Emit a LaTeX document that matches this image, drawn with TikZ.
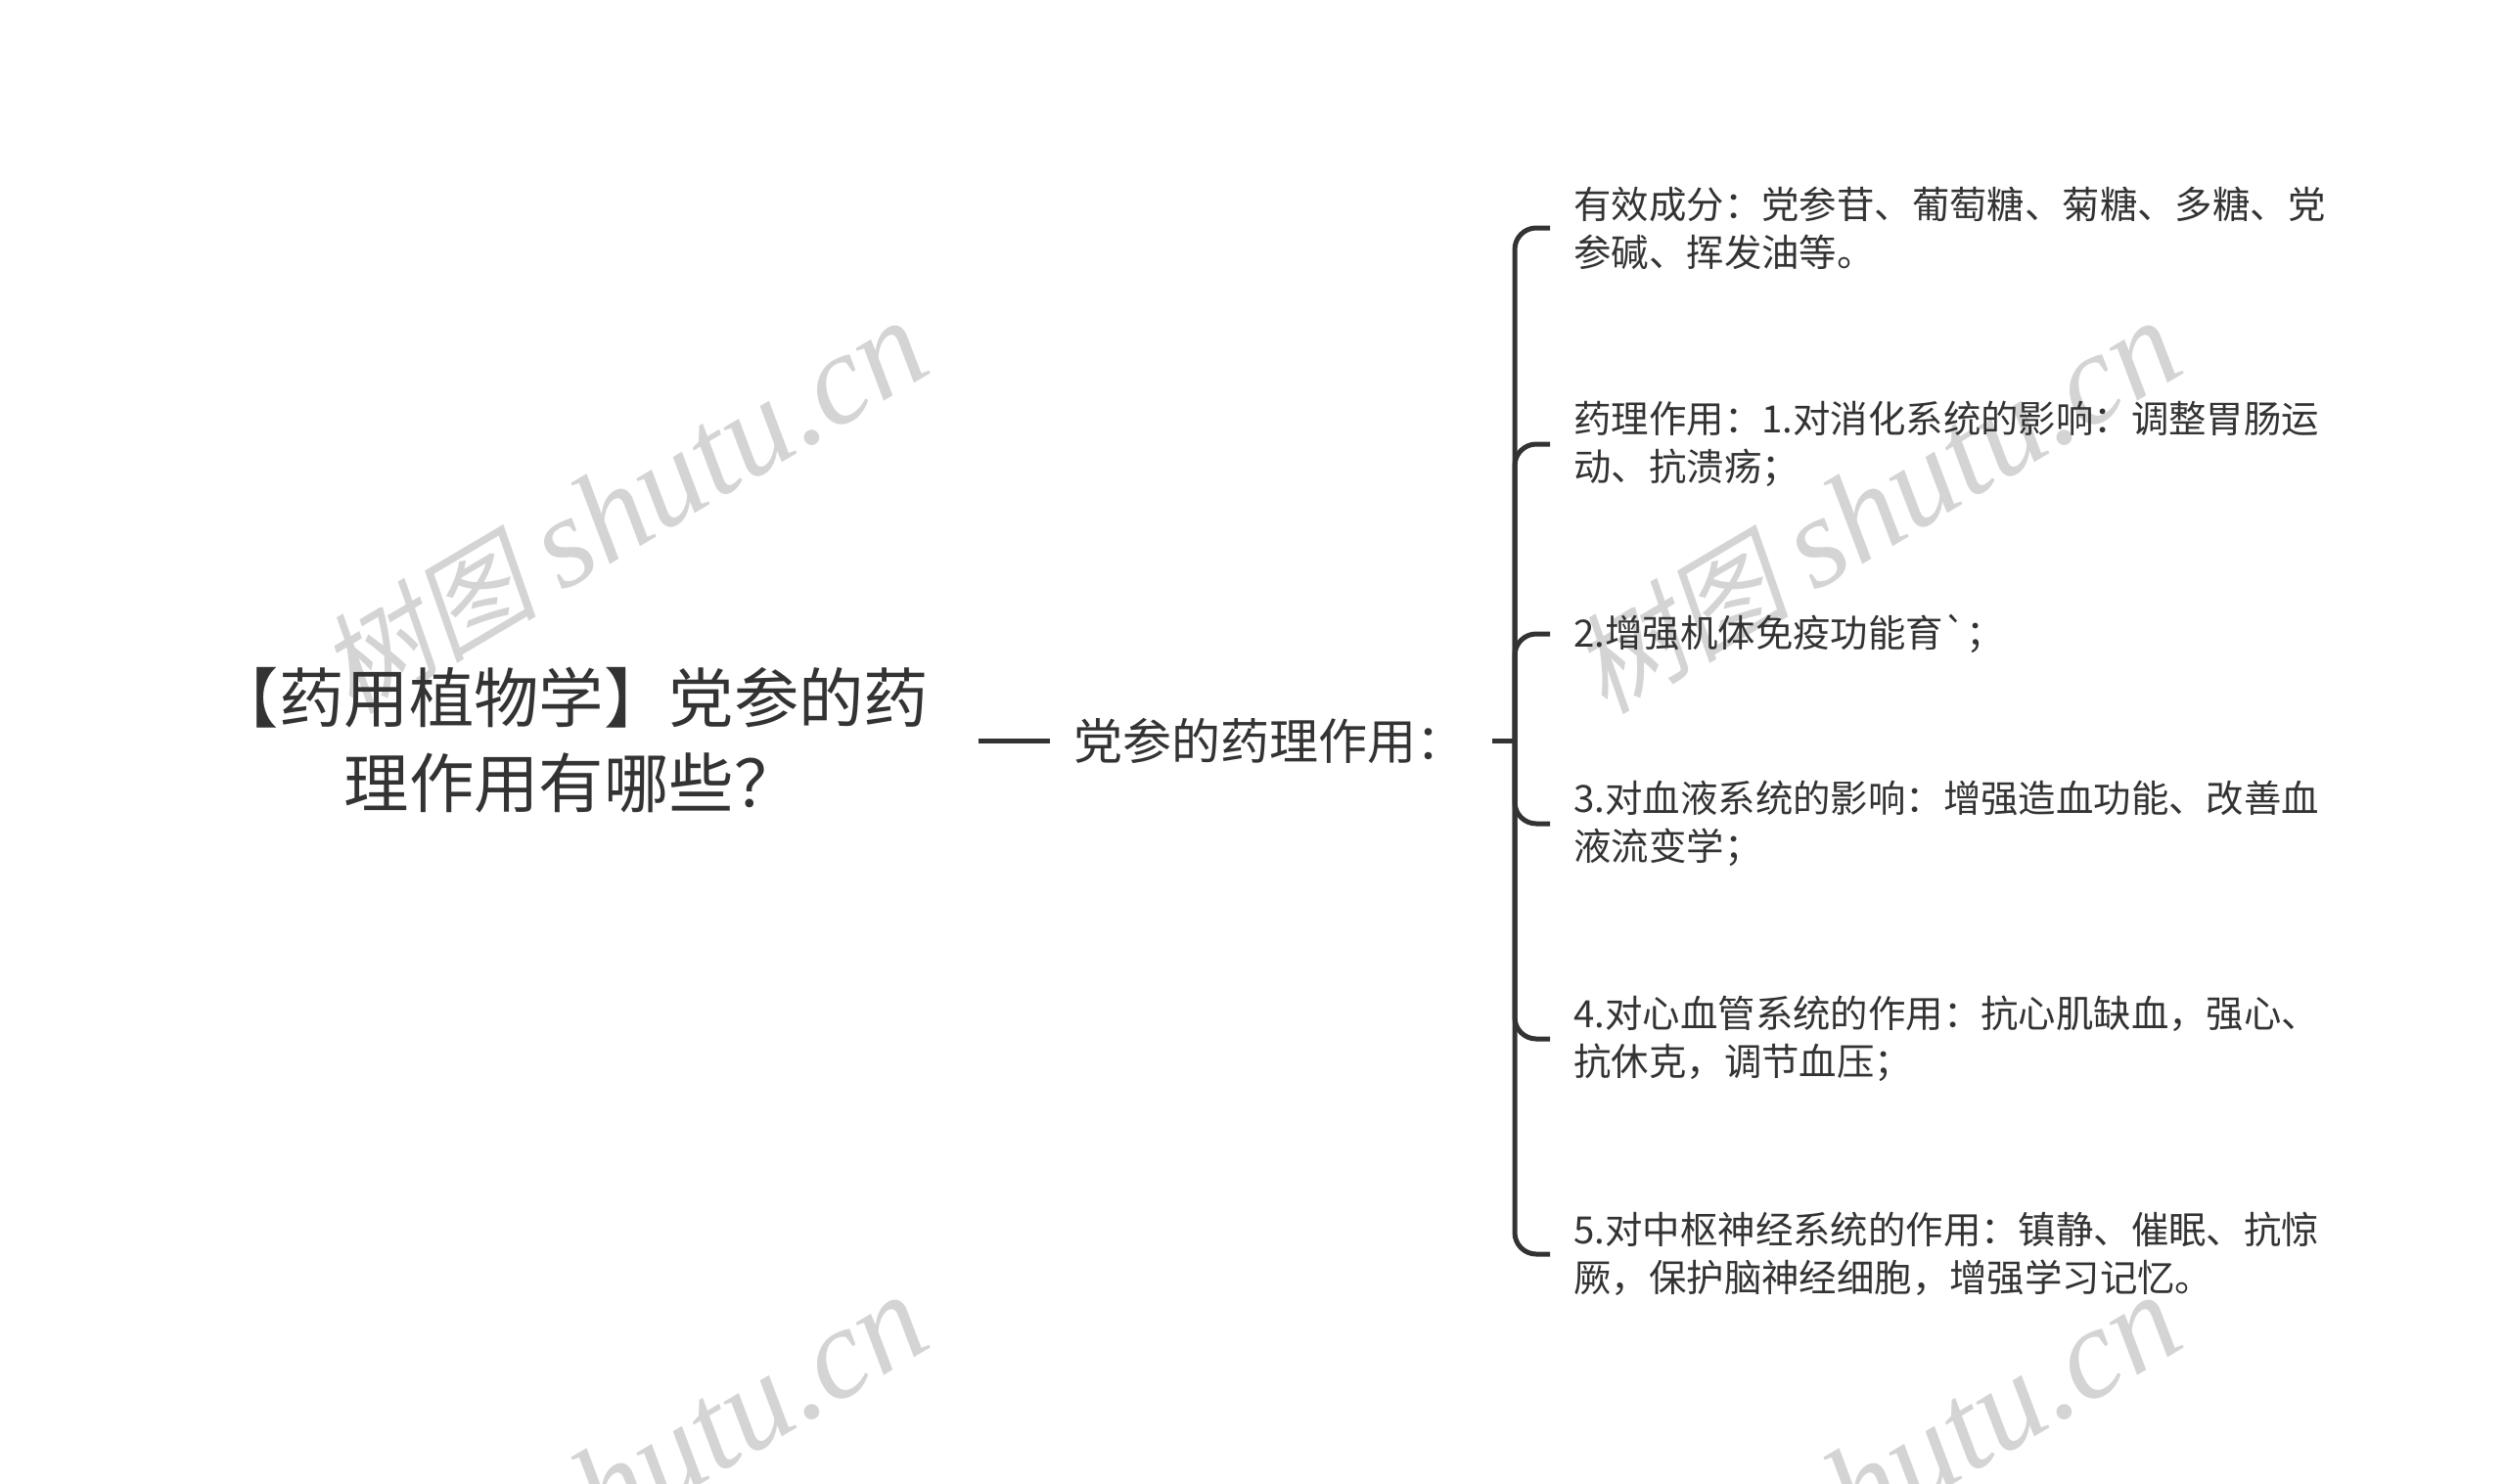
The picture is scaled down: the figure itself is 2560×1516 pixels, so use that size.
\documentclass[tikz,border=0pt]{standalone}
\usepackage{fontspec}
\setmainfont{Noto Sans CJK SC}
\newfontfamily\wmlatin{Liberation Serif}
\newfontfamily\wmcjk[FakeSlant=0.2]{Noto Sans CJK SC}
\definecolor{ink}{HTML}{333333}
\definecolor{wmgray}{HTML}{D4D4D4}

\begin{document}
\begin{tikzpicture}[x=0.5pt,y=-0.5pt,
    line/.style={draw=ink,line width=2.5pt},
    leaf/.style={anchor=west,inner xsep=12pt,inner ysep=0pt,align=left,text=ink,
      font=\fontsize{19.2}{24.5}\selectfont},
    wmark/.style={text=wmgray,rotate=30.6,inner sep=0pt}]
    \clip (0,0) rectangle (2560,1516);
    % watermarks
    \foreach \wx/\wy [count=\i] in {637/519,1917/519,637/1515,1917/1515}
      \node[wmark] (wm\i) at (\wx,\wy) {\wmcjk\fontsize{56}{56}\selectfont 树图 \wmlatin\itshape\fontsize{66}{66}\selectfont shutu.cn};
    % root and first level
    \node[align=center,text=ink,inner xsep=25pt,font=\fontsize{33.2}{43.5}\selectfont] (root) at (584,757)
      {【药用植物学】党参的药\\理作用有哪些？};
    \node[text=ink,inner xsep=12pt,font=\fontsize{25}{30}\selectfont] (sub) at (1297,757) {党参的药理作用：};
    \coordinate (fork) at (1548,757);
    \draw[line] (root) -- (sub);
    \draw[line,shorten <=2pt] (sub) -- (fork);
    % leaves
    \node[leaf] (ingr) at (1584,233) {有效成分：党参苷、葡萄糖、菊糖、多糖、党\\参碱、挥发油等。};
    \node[leaf] (digest) at (1584,454) {药理作用：1.对消化系统的影响：调整胃肠运\\动、抗溃疡；};
    \node[leaf] (immune) at (1584,648) {2.增强机体免疫功能育\textasciigrave；};
    \node[leaf] (blood) at (1584,842) {3.对血液系统的影响：增强造血功能、改善血\\液流变学；};
    \node[leaf] (heart) at (1584,1062) {4.对心血管系统的作用：抗心肌缺血，强心、\\抗休克，调节血压；};
    \node[leaf] (nerve) at (1584,1282) {5.对中枢神经系统的作用：镇静、催眠、抗惊\\厥，保护脑神经细胞，增强学习记忆。};
    \foreach \leafname in {ingr,digest,immune,blood,heart,nerve}
      \draw[line,rounded corners=11pt] (fork) |- (\leafname.west);
\end{tikzpicture}
\end{document}
